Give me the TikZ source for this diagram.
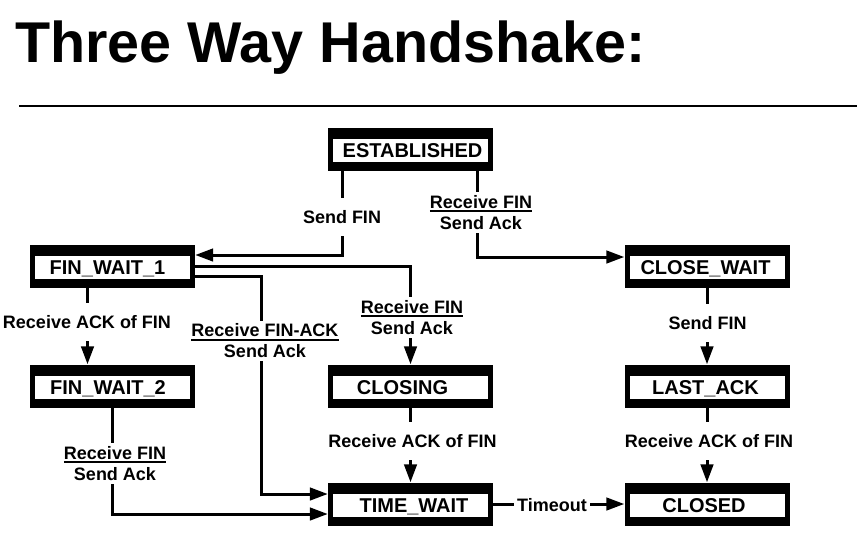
\documentclass[tikz,border=0pt]{standalone}
\usepackage{fontspec}
\setmainfont{Liberation Sans}
\usetikzlibrary{arrows.meta}
\newcommand\myul[1]{\setbox0\hbox{#1}\rlap{\rule[-3.7pt]{\wd0}{2pt}}\box0}
\begin{document}
\begin{tikzpicture}[x=1pt,y=-1pt,
  box/.style={minimum width=165pt, minimum height=43pt, inner sep=0pt, fill=black,
    font=\bfseries\fontsize{20}{22}\selectfont, text height=16.3pt, text depth=0pt,
    path picture={\fill[white] ([xshift=5pt,yshift=9pt]path picture bounding box.south west)
      rectangle ([xshift=-5pt,yshift=-11pt]path picture bounding box.north east);}},
  lbl/.style={fill=white, inner xsep=2pt, inner ysep=3pt, minimum height=38pt, align=center,
    font=\bfseries\fontsize{18}{21}\selectfont},
  arr/.style={line width=3pt, -{Triangle[length=18pt,width=12.5pt]}}]
\fill[white] (0,0) rectangle (866,557);
\useasboundingbox (0,0) rectangle (866,557);
% title and rule
\node[anchor=base west, inner sep=0pt, font=\bfseries\fontsize{57.5}{60}\selectfont] (title) at (15,62) {Three Way Handshake:};
\coordinate (r1) at (19,106);
\coordinate (r2) at (857,106);
\draw[line width=2pt] (r1) -- (r2);
% states
\node[box] (est) at (410,149) {\kern5pt ESTABLISHED};
\node[box] (fw1) at (112.5,266.5) {\kern-10pt FIN\_WAIT\_1};
\node[box] (cw) at (707,266.5) {\kern-3pt CLOSE\_WAIT};
\node[box] (fw2) at (112.5,386) {\kern-9pt FIN\_WAIT\_2};
\node[box] (closing) at (410.5,386) {\kern-16pt CLOSING};
\node[box] (la) at (707,386) {\kern-3pt LAST\_ACK};
\node[box] (tw) at (410.5,504) {\kern7pt TIME\_WAIT};
\node[box] (closed) at (707,504) {\kern-6pt CLOSED};
% connectors
\draw[arr] ([xshift=-68pt]est.south) |- ([yshift=11.5pt]fw1.east);
\draw[arr] ([xshift=67pt]est.south) |- ([yshift=9.5pt]cw.west);
\draw[arr] (fw1.east) -| (closing.north);
\coordinate (c1) at (261,276.5);
\draw[arr] ([yshift=-10pt]fw1.east) -- (c1) |- ([yshift=10pt]tw.west);
\draw[arr] ([xshift=-25pt]fw1.south) -- ([xshift=-25pt]fw2.north);
\draw[arr] (fw2.south) |- ([yshift=-10pt]tw.west);
\draw[arr] (closing.south) -- (tw.north);
\draw[arr] (cw.south) -- (la.north);
\draw[arr] (la.south) -- (closed.north);
\draw[arr] (tw.east) -- (closed.west);
% labels
\node[lbl] (l1) at (342,217) {Send FIN};
\node[lbl] (l2) at (481,212.5) {\myul{Receive FIN}\\Send Ack};
\node[lbl] (l3) at (87,322) {Receive ACK of FIN};
\node[lbl] (l4) at (265,341) {\myul{Receive FIN-ACK}\\Send Ack};
\node[lbl] (l5) at (412,317.5) {\myul{Receive FIN}\\Send Ack};
\node[lbl] (l6) at (115,463.5) {\myul{Receive FIN}\\Send Ack};
\node[lbl] (l7) at (412.5,441) {Receive ACK of FIN};
\node[lbl] (l8) at (707.5,323) {Send FIN};
\node[lbl] (l9) at (709,441) {Receive ACK of FIN};
\node[lbl, minimum height=0pt, inner xsep=3pt] (l10) at (552,505) {Timeout};
\end{tikzpicture}
\end{document}
